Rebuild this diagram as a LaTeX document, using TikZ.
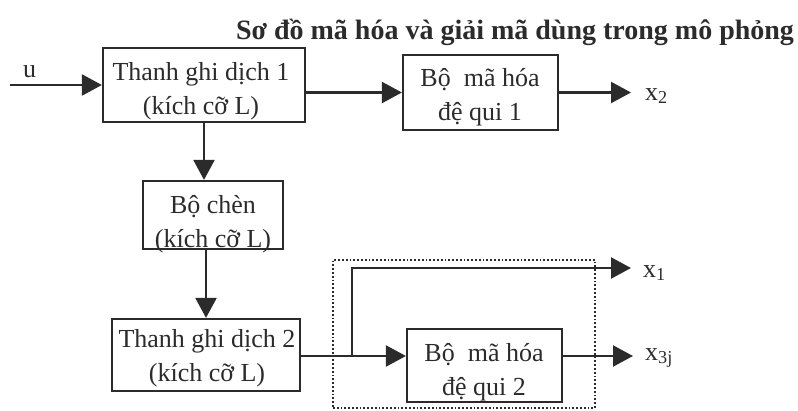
\documentclass[tikz,border=0pt]{standalone}
\usepackage{fontspec}
\setmainfont{Liberation Serif}
\usetikzlibrary{arrows.meta,calc}
\definecolor{ink}{HTML}{2B2B2B}
\begin{document}
\begin{tikzpicture}[x=1pt,y=-1pt,
  box/.style={draw=ink,line width=2.2pt,inner sep=0pt},
  txt/.style={align=center,inner sep=0pt,text=ink,font=\fontsize{26}{34}\selectfont},
  lbl/.style={anchor=west,inner sep=0pt,text=ink,font=\fontsize{26}{30}\selectfont},
  arr/.style={draw=ink,line width=2.2pt,-{Triangle[length=20pt,width=21pt]}},
  dotbox/.style={draw=ink,line width=1.8pt,dotted,inner sep=0pt}]
\useasboundingbox (0,0) rectangle (798,410);

% title
\node[inner sep=0pt,text=ink,font=\fontsize{28}{32}\selectfont\bfseries] (title) at (515,32)
  {Sơ đồ mã hóa và giải mã dùng trong mô phỏng};

% blocks
\node[box,minimum width=202pt,minimum height=74pt] (b1) at (204,85) {};
\node[txt] (b1t) at (201,91) {Thanh ghi dịch 1\\(kích cỡ L)};

\node[box,minimum width=155pt,minimum height=75pt] (b2) at (480.5,92.5) {};
\node[txt] (b2t) at (480,97) {Bộ\ \ mã hóa\\đệ qui 1};

\node[box,minimum width=140pt,minimum height=68pt] (b3) at (213,215) {};
\node[txt] (b3t) at (213,224) {Bộ chèn\\(kích cỡ L)};

\node[box,minimum width=188pt,minimum height=72pt] (b4) at (206,355) {};
\node[txt] (b4t) at (207,358) {Thanh ghi dịch 2\\(kích cỡ L)};

\node[dotbox,minimum width=262pt,minimum height=148pt] (grp) at (464,334) {};

\node[box,minimum width=155pt,minimum height=73pt] (b5) at (484.5,365.5) {};
\node[txt] (b5t) at (484,372) {Bộ\ \ mã hóa\\đệ qui 2};

% input
\coordinate (uin) at (10,85);
\node[lbl] (u) at (23,72) {u};
\draw[arr] (uin) -- (b1.west);

% main chain
\draw[arr] (b1.east |- b2.west) -- (b2.west);
\draw[arr] (b1.south) -- (b1.south |- b3.north);
\draw[arr] (b4.north |- b3.south) -- (b4.north);

% second register to second encoder, with the systematic branch
\coordinate (br) at (352,356);
\coordinate (x1end) at (631,268);
\coordinate (x2end) at (631,92.5);
\coordinate (x3end) at (633,356);
\draw[arr] (b4.east |- br) -- (b5.west |- br);
\draw[arr] (br) |- (x1end);
\draw[arr] (b2.east |- x2end) -- (x2end);
\draw[arr] (b5.east |- x3end) -- (x3end);

% outputs
\node[lbl] (x1) at (643,273) {x\textsubscript{1}};
\node[lbl] (x2) at (645,96) {x\textsubscript{2}};
\node[lbl] (x3) at (645,358) {x\textsubscript{3j}};
\end{tikzpicture}
\end{document}
